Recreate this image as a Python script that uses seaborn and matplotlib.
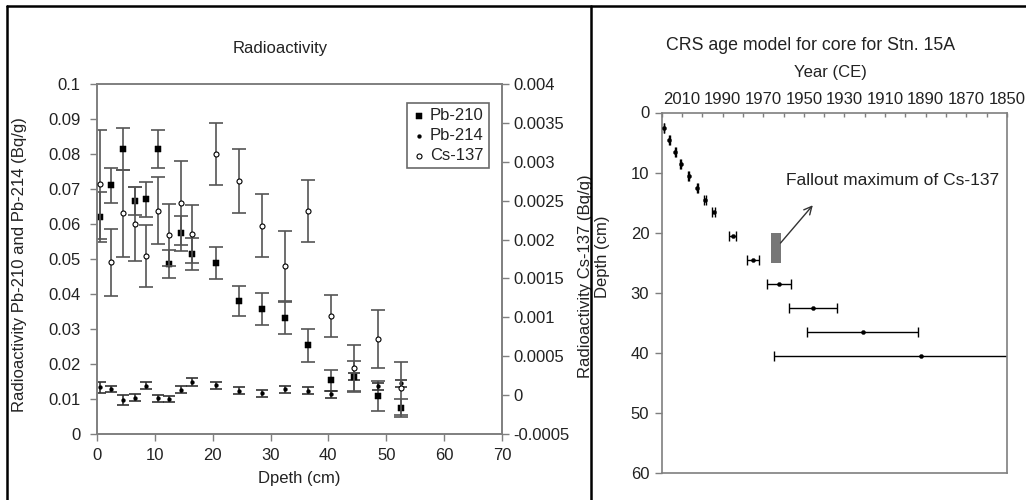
import warnings
warnings.filterwarnings("ignore")
import seaborn as sns, matplotlib.pyplot as plt
from matplotlib.ticker import FuncFormatter, MultipleLocator
from matplotlib.lines import Line2D

# left panel: activity vs depth
depth = [0.5, 2.5, 4.5, 6.5, 8.5, 10.5, 12.5, 14.5, 16.5, 20.5, 24.5, 28.5, 32.5, 36.5, 40.5, 44.5, 48.5, 52.5]
pb210 = [0.062, 0.0711, 0.0813, 0.0667, 0.0671, 0.0815, 0.0486, 0.0573, 0.0514, 0.0488, 0.038, 0.0357, 0.0332, 0.0254, 0.0154, 0.0164, 0.0109, 0.0075]
pb210_err = [0.007, 0.005, 0.006, 0.004, 0.005, 0.0055, 0.004, 0.005, 0.0045, 0.0045, 0.0043, 0.0045, 0.0045, 0.0047, 0.003, 0.0045, 0.0042, 0.0026]
pb214 = [0.0133, 0.0129, 0.0097, 0.0104, 0.0138, 0.0102, 0.0100, 0.0126, 0.0148, 0.0140, 0.0124, 0.0116, 0.0128, 0.0124, 0.0114, 0.0165, 0.0137, 0.0145]
pb214_err = [0.0017, 0.0008, 0.0014, 0.001, 0.001, 0.001, 0.0008, 0.001, 0.0012, 0.001, 0.001, 0.001, 0.001, 0.001, 0.001, 0.001, 0.001, 0.001]
cs137 = [0.00271, 0.00171, 0.00234, 0.00220, 0.00179, 0.00237, 0.00206, 0.00247, 0.00207, 0.00310, 0.00275, 0.00218, 0.00166, 0.00237, 0.00102, 0.00035, 0.00072, 0.00009]
cs137_err = [0.0007, 0.00043, 0.00056, 0.00048, 0.0004, 0.00043, 0.0004, 0.00054, 0.00037, 0.0004, 0.00041, 0.00041, 0.00045, 0.0004, 0.00027, 0.0003, 0.00037, 0.00034]

# right panel: CRS age model
crs_depth = [2.5, 4.5, 6.5, 8.5, 10.5, 12.5, 14.5, 16.5, 20.5, 24.5, 28.5, 32.5, 36.5, 40.5]
crs_year = [2018.9, 2016.2, 2013.4, 2010.6, 2006.7, 2002.4, 1998.9, 1994.5, 1985.1, 1975.0, 1962.2, 1945.4, 1921.1, 1892.3]
crs_err = [0.15, 0.2, 0.25, 0.3, 0.35, 0.4, 0.5, 0.7, 1.8, 3.0, 6.0, 11.7, 27.5, 72.5]
peak_years = [1966, 1961.5]
peak_depth = [20, 25]
year_ticks = [2010, 1990, 1970, 1950, 1930, 1910, 1890, 1870, 1850]

sns.set_style("white")
plt.rcParams['font.family'] = ['Liberation Sans', 'DejaVu Sans']
plt.rcParams['font.size'] = 12
txt = '#222222'
spine = '#7f7f7f'

fig = plt.figure(figsize=(10.26, 5.0), dpi=100)

# ---- left panel
ax = fig.add_axes([0.0945, 0.132, 0.3947, 0.70])
ax2 = ax.twinx()
ax.errorbar(depth, pb210, yerr=pb210_err, fmt='none', ecolor='#555555', elinewidth=1.2, capsize=5, capthick=1.2, zorder=2)
ax.errorbar(depth, pb214, yerr=pb214_err, fmt='none', ecolor='#333333', elinewidth=1.2, capsize=4, capthick=1.2, zorder=2)
sns.scatterplot(x=depth, y=pb210, marker='s', color='black', edgecolor='black', s=20, ax=ax, label='Pb-210', zorder=3)
sns.scatterplot(x=depth, y=pb214, marker='o', color='black', edgecolor='black', s=8, ax=ax, label='Pb-214', zorder=3)
ax2.errorbar(depth, cs137, yerr=cs137_err, fmt='none', ecolor='#555555', elinewidth=1.2, capsize=5, capthick=1.2, zorder=2)
sns.scatterplot(x=depth, y=cs137, marker='o', color='white', edgecolor='black', linewidth=0.8, s=13, ax=ax2, label='Cs-137', zorder=3)

ax.set_xlim(0, 70)
ax.set_ylim(0, 0.1)
ax2.set_ylim(-0.0005, 0.004)
ax.xaxis.set_major_locator(MultipleLocator(10))
ax.yaxis.set_major_locator(MultipleLocator(0.01))
ax2.yaxis.set_major_locator(MultipleLocator(0.0005))
fmt = FuncFormatter(lambda v, p: f"{round(v, 4) + 0.0:g}")
ax.yaxis.set_major_formatter(fmt)
ax2.yaxis.set_major_formatter(fmt)
for a in (ax, ax2):
    for s in a.spines.values():
        s.set_color(spine)
        s.set_linewidth(1.2)
    a.tick_params(colors=spine, labelcolor=txt, length=5, width=1, labelsize=12)
ax.tick_params(axis='y', pad=7, left=True)
ax.tick_params(axis='x', pad=5, bottom=True)
ax2.tick_params(axis='y', pad=3, right=True)
ax.set_xlabel('Dpeth (cm)', color=txt)
ax.xaxis.set_label_coords(0.5, -0.105)
ax.set_ylabel('Radioactivity Pb-210 and Pb-214 (Bq/g)', color=txt)
ax.yaxis.set_label_coords(-0.173, 0.483)
ax2.set_ylabel('Radioactivity Cs-137 (Bq/g)', color=txt)
ax2.yaxis.set_label_coords(1.188, 0.45)
ax.text(0.452, 1.09, 'Radioactivity', transform=ax.transAxes, ha='center', va='baseline', color=txt)
ax.get_legend().remove()
h1, l1 = ax.get_legend_handles_labels()
h2, l2 = ax2.get_legend_handles_labels()
leg = ax2.legend(h1 + h2, l1 + l2, loc='upper left', bbox_to_anchor=(0.765, 0.946), fancybox=False,
                 edgecolor='#444444', handletextpad=0.2, handlelength=0.9, borderpad=0.3, labelspacing=0.3,
                 fontsize=12, borderaxespad=0)
leg.get_frame().set_linewidth(1.2)
for t in leg.get_texts():
    t.set_color(txt)

# ---- right panel
bx = fig.add_axes([0.645, 0.0546, 0.3363, 0.7204])
bx.errorbar(crs_year, crs_depth, xerr=crs_err, fmt='none', ecolor='black', elinewidth=1, capsize=3.5, capthick=1, zorder=2)
sns.scatterplot(x=crs_year, y=crs_depth, marker='o', color='black', edgecolor='black', s=9, ax=bx, zorder=3)
bx.fill_betweenx(peak_depth, peak_years[0], peak_years[1], color='#777777', lw=0, zorder=2)
bx.annotate('', xy=(1944.7, 15.1), xytext=(1962.4, 22.1),
            arrowprops=dict(arrowstyle='->', color='#333333', lw=1, mutation_scale=14))
bx.text(1958.6, 11.3, 'Fallout maximum of Cs-137', ha='left', va='center', color=txt, fontsize=12.5)
bx.set_xlim(2020, 1850)
bx.set_ylim(60, 0)
bx.set_xticks(year_ticks)
bx.set_xticks([2020, 2000, 1980, 1960, 1940, 1920, 1900, 1880, 1860], minor=True)
bx.yaxis.set_major_locator(MultipleLocator(10))
bx.xaxis.tick_top()
for s in bx.spines.values():
    s.set_color(spine)
    s.set_linewidth(1.2)
bx.tick_params(axis='x', which='both', direction='in', length=3, width=1, colors=spine, labelcolor=txt, pad=4, labelsize=12, top=True)
bx.tick_params(axis='y', direction='out', length=5, width=1, colors=spine, labelcolor=txt, pad=4, labelsize=12, left=True)
bx.set_ylabel('Depth (cm)', color=txt)
bx.yaxis.set_label_coords(-0.15, 0.6)
bx.text(0.488, 1.099, 'Year (CE)', transform=bx.transAxes, ha='center', va='baseline', color=txt)
bx.text(0.43, 1.173, 'CRS age model for core for Stn. 15A', transform=bx.transAxes, ha='center', va='baseline',
        color=txt, fontsize=12.8)

# panel frames
for xy in [([0.0068, 0.0068], [0, 0.988]), ([0.0068, 1], [0.988, 0.988]), ([0.576, 0.576], [0, 0.988])]:
    fig.add_artist(Line2D(xy[0], xy[1], transform=fig.transFigure, color='black', lw=1.8))

fig.savefig('out.png', dpi=100)
